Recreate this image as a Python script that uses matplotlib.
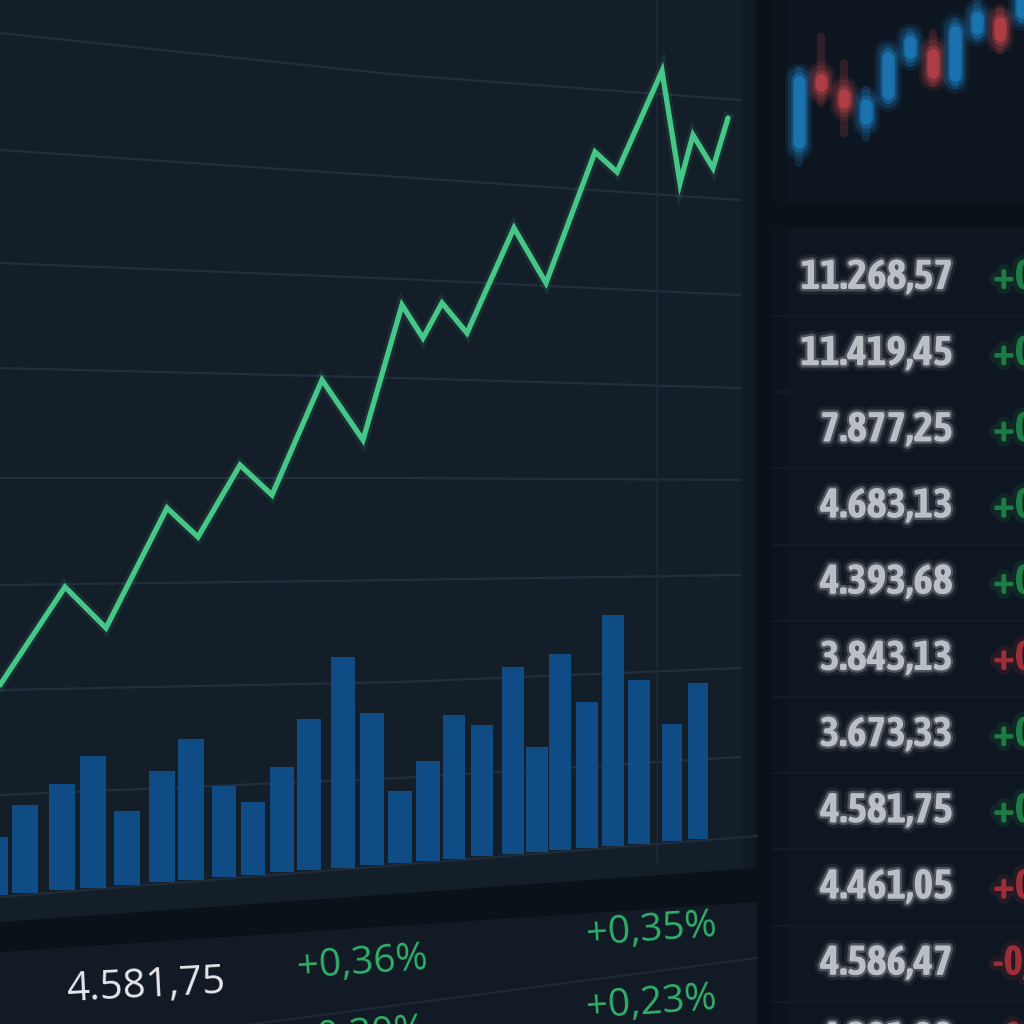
import os
import matplotlib
matplotlib.use('Agg')
import matplotlib.pyplot as plt
import matplotlib.patheffects as pe
from matplotlib import font_manager
from matplotlib.font_manager import FontProperties
from matplotlib.patches import Polygon, Rectangle
import numpy as np

# ---------------- data ----------------
# price line (time in hours, price in index points)
line_t = [0, 3.25, 5.3, 8.35, 9.9, 12.0, 13.6, 16.1, 18.15, 20.1, 21.15, 22.1,
          23.35, 25.7, 27.3, 29.75, 30.85, 33.1, 34.0, 34.65, 35.65, 36.4]
line_price = [4215, 4313, 4272, 4392, 4363, 4435, 4405, 4520, 4460, 4595, 4562, 4597,
              4567, 4672, 4617, 4748, 4728, 4829, 4717, 4765, 4732, 4782]

# volume bars
vol_t = [-0.3, 1.25, 3.1, 4.65, 6.35, 8.1, 9.55, 11.2, 12.65, 14.1, 15.45, 17.15, 18.6,
         20.0, 21.4, 22.7, 24.1, 25.65, 26.85, 28.0, 29.35, 30.65, 31.95, 33.6, 34.9]
volume = [58, 88, 106, 132, 74, 111, 141, 91, 73, 105, 151, 211, 152,
          72, 100, 144, 131, 187, 105, 196, 146, 231, 164, 117, 156]

# candlesticks (top-right mini chart)
candle_open  = [53, 125, 110, 77, 102, 143, 150, 120, 167, 182, 183]
candle_close = [123, 110, 93, 100, 147, 163, 123, 173, 187, 160, 205]
candle_high  = [130, 163, 137, 110, 150, 167, 167, 178, 200, 190, 210]
candle_low   = [37, 97, 67, 62, 100, 137, 117, 115, 163, 150, 180]

# quote table
table_values = ["11.268,57", "11.419,45", "7.877,25", "4.683,13", "4.393,68", "3.843,13",
                "3.673,33", "4.581,75", "4.461,05", "4.586,47", "4.391,98"]
table_changes = ["+0,42%", "+0,38%", "+0,27%", "+0,31%", "+0,19%", "+0,12%",
                 "+0,24%", "+0,36%", "+0,08%", "-0,15%", "-0,22%"]
table_up = [True, True, True, True, True, False, True, True, False, False, False]

# bottom ticker
bottom_price = "4.581,75"
bottom_changes = ["+0,36%", "+0,35%", "+0,23%", "+0,30%"]

# ---------------- fonts ----------------
def find_narrow():
    cands = []
    for f in font_manager.fontManager.ttflist:
        base = os.path.basename(f.fname).lower()
        nm = f.name.lower()
        key = base + ' ' + nm
        if 'mono' in key or 'serif' in key.replace('sans', '') or 'italic' in key \
                or 'oblique' in key:
            continue
        st = str(f.stretch).lower()
        if 'narrow' in key:
            s = 0
        elif 'condensed' in key or 'condensed' in st:
            if 'extra' in key or 'ultra' in key or 'extra' in st:
                s = 2
            elif 'semi' in key or 'semi' in st:
                s = 1
            else:
                s = 0
        else:
            continue
        if 'dejavu' in key:
            s += 3
        w = f.weight
        if w in ('bold', 700, 'demibold') or 'bold' in base and 'semi' not in base \
                and 'extra' not in base.split('condensed')[-1]:
            s += 0
        elif w in ('semibold', 600) or 'semibold' in base:
            s += 0.3
        else:
            s += 1
        cands.append((s, f.fname))
    cands.sort()
    return cands[0][1] if cands else None

narrow_file = find_narrow()

def table_fp(size):
    if narrow_file:
        return FontProperties(fname=narrow_file, size=size)
    return FontProperties(family=['Liberation Sans', 'DejaVu Sans'], weight='bold',
                          size=size)

# ---------------- style ----------------
BG = '#0a1118'
PANEL = '#141e29'
RIGHT = '#0e1721'
GRID = '#233140'
GREEN = '#46c788'
BAR = '#0f4c86'
TXT_GREEN = '#31b06a'

fig = plt.figure(figsize=(10.24, 10.24), dpi=100)
fig.patch.set_facecolor(BG)

ax = fig.add_axes([0, 0, 1, 1])
ax.set_xlim(0, 1024)
ax.set_ylim(1024, 0)
ax.axis('off')
ax.set_zorder(0)

# fit table font size so that the widest quote is ~152 px wide
renderer = fig.canvas.get_renderer()
probe = ax.text(0, 0, table_values[0], fontproperties=table_fp(30))
wpx = probe.get_window_extent(renderer).width
probe.remove()
TSIZE = min(34, 30 * 152.0 / wpx)
TFP = table_fp(TSIZE)

# main chart panel
ax.add_patch(Polygon([(0, 0), (757, 0), (757, 868), (0, 922)], closed=True,
                     facecolor=PANEL, edgecolor='none'))
for i, a in enumerate(np.linspace(0.05, 0.5, 8)):
    ax.add_patch(Rectangle((741 + 2 * i, 0), 2, 870, facecolor=BG, alpha=a, edgecolor='none'))
# bottom ticker panel
ax.add_patch(Polygon([(0, 952), (757, 902), (757, 1024), (0, 1024)], closed=True,
                     facecolor='#111a25', edgecolor='none'))
ax.plot([200, 757], [1031, 958], color='#1e2935', lw=1.6)

# right panel
ax.add_patch(Rectangle((772, 0), 252, 203, facecolor='#0d1620', edgecolor='none'))
ax.add_patch(Rectangle((772, 228), 252, 800, facecolor=RIGHT, edgecolor='none'))
ax.add_patch(Rectangle((772, 0), 14, 1024, facecolor='#0b121a', alpha=0.7, edgecolor='none'))

# gridlines (perspective)
grid_left = [33, 150, 263, 368, 478, 585, 690, 795]
grid_mid = [75, 177, 279, 378, 478, 580, 682, 778]
grid_right = [100, 200, 295, 388, 480, 575, 668, 757]
for yl, ym, yr in zip(grid_left, grid_mid, grid_right):
    ax.plot([0, 400, 740], [yl, ym, yr], color=GRID, lw=1.5, alpha=0.9, zorder=1)
ax.plot([657, 657], [0, 862], color='#1c2733', lw=1.4, zorder=1)
ax.plot([0, 757], [897, 836], color='#1f2b38', lw=1.6, zorder=1)

# ---------------- volume bars ----------------
axv = fig.add_axes([0, 0, 1, 1])
axv.set_zorder(1)
axv.patch.set_visible(False)
axv.axis('off')
axv.set_xlim(0, 51.2)
axv.set_ylim(0, 1024)
vt = np.array(vol_t)
base = 129 + 1.6 * vt            # perspective baseline
widths = (27 - 0.18 * vt) / 20.0  # bars shrink slightly with distance
axv.bar(vt, volume, width=widths, bottom=base, color=BAR, edgecolor='none')

# ---------------- price line ----------------
axp = fig.add_axes([0, 0, 1, 1])
axp.set_zorder(2)
axp.patch.set_visible(False)
axp.axis('off')
axp.set_xlim(0, 51.2)
axp.set_ylim(3876, 4900)
axp.plot(line_t, line_price, color=GREEN, lw=8, alpha=0.10, solid_joinstyle='miter')
axp.plot(line_t, line_price, color=GREEN, lw=3.8, solid_joinstyle='miter',
         solid_capstyle='round')

# ---------------- candlesticks (blurred) ----------------
axc = fig.add_axes([772 / 1024, (1024 - 203) / 1024, 252 / 1024, 203 / 1024])
axc.set_zorder(3)
axc.patch.set_visible(False)
axc.axis('off')
axc.set_xlim(-1.21, 10.09)
axc.set_ylim(-3, 200)
for i, (o, c, h, l) in enumerate(zip(candle_open, candle_close, candle_high, candle_low)):
    up = c >= o
    col = '#1f8ad2' if up else '#d4494f'
    axc.plot([i, i], [l, h], color=col, lw=6, alpha=0.18, solid_capstyle='round')
    lo, hi = min(o, c), max(o, c)
    for lw, a, sh in [(20, 0.10, 0), (16, 0.18, 1), (12, 0.3, 3), (9, 0.55, 5)]:
        axc.plot([i, i], [lo + sh, hi - sh], color=col, lw=lw, alpha=a,
                 solid_capstyle='round')

# ---------------- quote table ----------------
for i, (v, ch, up) in enumerate(zip(table_values, table_changes, table_up)):
    y = 278 + 76.2 * i
    ax.plot([772, 1024], [y + 38, y + 38], color='#131d28', lw=1.2, zorder=1)
    ax.text(953, y, v, ha='right', va='center', fontproperties=TFP,
            color='#c2c6cc', alpha=0.92,
            path_effects=[pe.Stroke(linewidth=8, foreground='#c2c6cc', alpha=0.08),
                          pe.Stroke(linewidth=3.5, foreground='#c2c6cc', alpha=0.3),
                          pe.Normal()])
    cc = '#1f8547' if up else '#a8303a'
    ax.text(993, y, ch, ha='left', va='center', fontproperties=TFP,
            color=cc, alpha=0.9,
            path_effects=[pe.Stroke(linewidth=7, foreground=cc, alpha=0.15),
                          pe.Normal()])

# ---------------- bottom ticker ----------------
ax.text(67, 1001, bottom_price, ha='left', va='baseline', fontsize=29,
        family=['Open Sans', 'DejaVu Sans'], color='#e6e8eb', rotation=3,
        rotation_mode='anchor')
ticker_pos = [(298, 978), (587, 945), (587, 1018), (296, 1050)]
for (x, y), s in zip(ticker_pos, bottom_changes):
    ax.text(x, y, s, ha='left', va='baseline', fontsize=28,
            family=['Open Sans', 'DejaVu Sans'], color=TXT_GREEN, rotation=4,
            rotation_mode='anchor')

fig.savefig('out.png', dpi=100, facecolor=fig.get_facecolor())
